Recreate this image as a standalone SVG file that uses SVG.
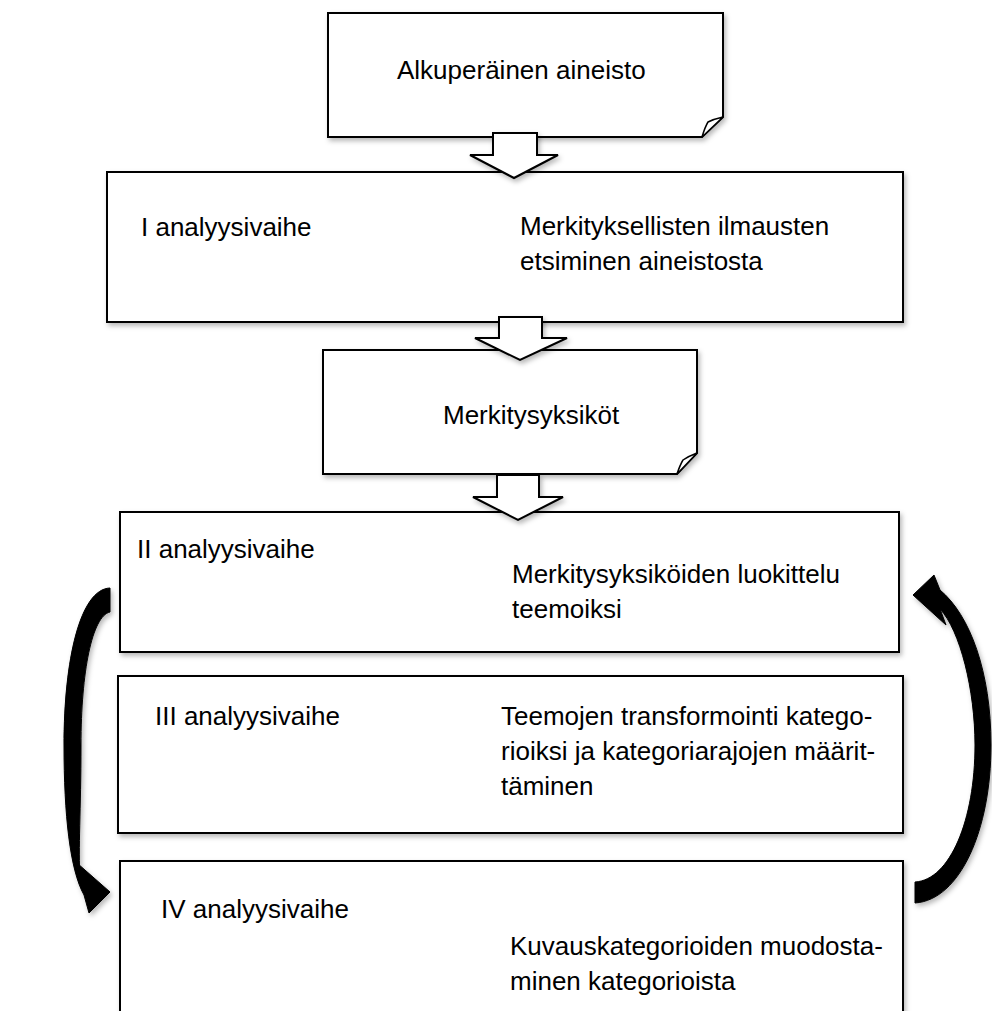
<svg xmlns="http://www.w3.org/2000/svg" width="992" height="1011" viewBox="0 0 992 1011">
  <defs>
    <filter id="shadow" x="-10%" y="-10%" width="130%" height="130%">
      <feDropShadow dx="2" dy="3" stdDeviation="2.5" flood-color="#000" flood-opacity="0.28"/>
    </filter>
  </defs>
  <style>
    .box { fill: #fff; stroke: #000; stroke-width: 2; filter: url(#shadow); }
    .fold { fill: #fff; stroke: #000; stroke-width: 1.5; stroke-linejoin: round; }
    .block { fill: #fff; stroke: #000; stroke-width: 2; stroke-linejoin: miter; filter: url(#shadow); }
    .curve { fill: #000; stroke: #000; stroke-width: 1; stroke-linejoin: miter; filter: url(#shadow); }
    text { font-family: "Liberation Sans", Arial, sans-serif; font-size: 26px; fill: #000; }
  </style>
  <rect width="992" height="1011" fill="#fff"/>

  <!-- source material (note shape) -->
  <g id="node-source">
    <path class="box" d="M328,13 H723 V117 L702,137 H328 Z"/>
    <path class="fold" d="M702,137 Q705,127 708,122 Q714,119 723,117 Z"/>
    <text x="397" y="79">Alkuperäinen aineisto</text>
  </g>

  <!-- phase I -->
  <g id="node-phase1">
    <rect class="box" x="107" y="172" width="796" height="150"/>
    <text x="141" y="236">I analyysivaihe</text>
    <text x="520" y="235">Merkityksellisten ilmausten</text>
    <text x="520" y="270">etsiminen aineistosta</text>
  </g>

  <!-- meaning units (note shape) -->
  <g id="node-units">
    <path class="box" d="M323,350 H697 V453 L677,474 H323 Z"/>
    <path class="fold" d="M677,474 Q680,465 683,460 Q689,456 697,453 Z"/>
    <text x="443" y="424">Merkitysyksiköt</text>
  </g>

  <!-- phase II -->
  <g id="node-phase2">
    <rect class="box" x="120" y="512" width="779" height="140"/>
    <text x="137" y="558">II analyysivaihe</text>
    <text x="512" y="583">Merkitysyksiköiden luokittelu</text>
    <text x="512" y="618">teemoiksi</text>
  </g>

  <!-- phase III -->
  <g id="node-phase3">
    <rect class="box" x="118" y="676" width="785" height="157"/>
    <text x="155" y="725">III analyysivaihe</text>
    <text x="501" y="725">Teemojen transformointi katego-</text>
    <text x="501" y="760">rioiksi ja kategoriarajojen määrit-</text>
    <text x="501" y="795">täminen</text>
  </g>

  <!-- phase IV -->
  <g id="node-phase4">
    <rect class="box" x="120" y="861" width="783" height="170"/>
    <text x="161" y="918">IV analyysivaihe</text>
    <text x="510" y="955">Kuvauskategorioiden muodosta-</text>
    <text x="510" y="990">minen kategorioista</text>
  </g>

  <!-- connectors -->
  <g id="connectors">
    <path class="block" d="M493,133 H537 V155 H558 L514,178 L470,155 H493 Z"/>
    <path class="block" d="M499,317 H542 V338 H567 L520,360 L475,338 H499 Z"/>
    <path class="block" d="M497,475 H539 V497 H563 L518,520 L473,497 H497 Z"/>
    <!-- loop from phase II down to phase IV -->
    <path class="curve" d="M110,588 C80,589 64,660 64,745 C64,815 70,870 84,895 L89,913 L110,892 L77,863 L80,877 C78,850 81,810 81,745 C81,672 92,616 110,612 Z"/>
    <!-- loop from phase IV back up to phase II -->
    <path class="curve" d="M915,903 C960,900 991,830 991,745 C991,672 970,615 940,590 L934,575 L913,595 L946,625 L940,609 C960,630 975,690 975,745 C975,820 950,880 915,882 Z"/>
  </g>
</svg>
